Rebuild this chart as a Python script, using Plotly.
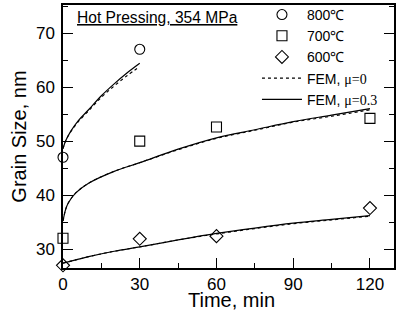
import plotly.graph_objects as go

# Measured data points
t_800 = [0, 30]
d_800 = [47.0, 67.0]
t_700 = [0, 30, 60, 120]
d_700 = [32.0, 50.0, 52.6, 54.2]
t_600 = [0, 30, 60, 120]
d_600 = [27.0, 31.9, 32.4, 37.6]

# FEM curves
fem_t_800 = [0, 1, 3, 6, 10, 15, 20, 25, 30]
fem_mu03_800 = [48.6, 50.0, 51.8, 53.8, 55.8, 58.4, 60.6, 62.6, 64.4]
fem_mu0_800 = [48.6, 50.0, 51.7, 53.6, 55.6, 58.1, 60.2, 62.1, 63.8]

fem_t_700 = [0, 1, 2, 5, 10, 20, 30, 45, 60, 75, 90, 105, 120]
fem_mu03_700 = [35.2, 37.3, 38.5, 40.4, 42.2, 44.4, 46.0, 48.5, 50.6, 52.1, 53.6, 54.8, 56.0]
fem_mu0_700 = [35.2, 37.3, 38.5, 40.4, 42.2, 44.4, 46.0, 48.4, 50.5, 52.0, 53.5, 54.6, 55.8]

fem_t_600 = [0, 5, 10, 20, 30, 45, 60, 75, 90, 105, 120]
fem_mu03_600 = [27.4, 28.0, 28.6, 29.6, 30.4, 31.7, 32.9, 33.9, 34.8, 35.5, 36.2]
fem_mu0_600 = [27.4, 28.0, 28.6, 29.6, 30.4, 31.7, 32.8, 33.8, 34.7, 35.4, 36.1]

x_ticks = [0, 30, 60, 90, 120]
y_ticks = [30, 40, 50, 60, 70]

SANS = "Liberation Sans, Arial, sans-serif"
SERIF = "Liberation Serif, Times New Roman, serif"

fig = go.Figure()

mk = dict(color="black", size=10, line=dict(color="black", width=1.1))
for t, d, sym, name in [(t_800, d_800, "circle-open", "800℃"),
                        (t_700, d_700, "square-open", "700℃"),
                        (t_600, d_600, "diamond-open", "600℃")]:
    fig.add_trace(go.Scatter(x=t, y=d, mode="markers", name=name,
                             marker=dict(symbol=sym, **mk), cliponaxis=False))

mu0_name = 'FEM, <span style="font-family:Liberation Serif;color:black">μ=0</span>'
mu03_name = 'FEM, <span style="font-family:Liberation Serif;color:black">μ=0.3</span>'

for i, (t, d) in enumerate([(fem_t_800, fem_mu0_800), (fem_t_700, fem_mu0_700), (fem_t_600, fem_mu0_600)]):
    fig.add_trace(go.Scatter(x=t, y=d, mode="lines", name=mu0_name, legendgroup="mu0",
                             showlegend=(i == 0),
                             line=dict(color="black", width=1.1, dash="3px,3px", shape="spline")))
for i, (t, d) in enumerate([(fem_t_800, fem_mu03_800), (fem_t_700, fem_mu03_700), (fem_t_600, fem_mu03_600)]):
    fig.add_trace(go.Scatter(x=t, y=d, mode="lines", name=mu03_name, legendgroup="mu03",
                             showlegend=(i == 0),
                             line=dict(color="black", width=1.2, shape="spline")))

fig.update_layout(
    width=399, height=313,
    margin=dict(l=63, r=5, t=5, b=45, autoexpand=False),
    paper_bgcolor="white", plot_bgcolor="white",
    font=dict(family=SANS, color="black", size=17),
    showlegend=True,
    legend=dict(x=0.586, y=1.023, xanchor="left", yanchor="top",
                bgcolor="rgba(0,0,0,0)", borderwidth=0,
                font=dict(size=14, family=SANS, color="black"), itemwidth=40,
                traceorder="normal"),
    xaxis=dict(range=[0, 129.4], tickvals=x_ticks, ticks="inside", ticklen=10,
               tickwidth=1.3, tickcolor="black", automargin=False,
               minor=dict(dtick=15, tick0=0, ticks="inside", ticklen=5, tickcolor="black", tickwidth=1.2),
               showline=True, linecolor="black", linewidth=1.5, mirror=True,
               showgrid=False, zeroline=False,
               tickfont=dict(size=17)),
    yaxis=dict(range=[26.5, 75.2], tickvals=y_ticks, ticks="inside", ticklen=10,
               tickwidth=1.3, tickcolor="black", automargin=False,
               minor=dict(dtick=5, tick0=0, ticks="inside", ticklen=5, tickcolor="black", tickwidth=1.2),
               showline=True, linecolor="black", linewidth=1.5, mirror="ticks",
               showgrid=False, zeroline=False,
               tickfont=dict(size=17), ticklabelstandoff=3,
               title=dict(text="Grain Size, nm", font=dict(size=20), standoff=4)),
    annotations=[dict(text="<u>Hot Pressing, 354 MPa</u>", xref="paper", yref="paper",
                      x=0.036, y=0.954, xanchor="left", yanchor="middle", showarrow=False,
                      font=dict(size=15.6, family=SANS)),
                 dict(text="Time, min", xref="paper", yref="paper",
                      x=0.51, y=-0.171, xanchor="center", yanchor="bottom", showarrow=False,
                      font=dict(size=20, family=SANS))],
)

fig.write_html("out.html", config={"displayModeBar": False},
               post_script="document.body.style.margin='0';")
